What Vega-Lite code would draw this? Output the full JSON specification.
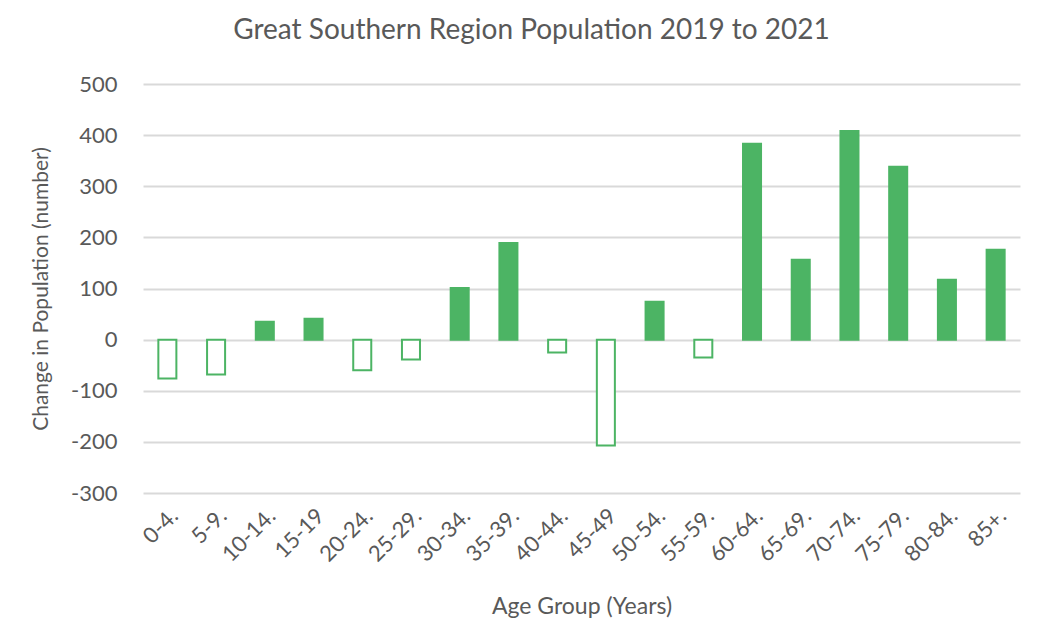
{
  "$schema": "https://vega.github.io/schema/vega-lite/v6.json",
  "autosize": "none",
  "width": 877,
  "height": 409,
  "padding": {"left": 143, "top": 84, "right": 24, "bottom": 126},
  "background": "white",
  "title": {
    "text": "Great Southern Region Population 2019 to 2021",
    "font": "Lato",
    "fontSize": 28,
    "fontWeight": "normal",
    "color": "#595959",
    "anchor": "middle",
    "dx": -50,
    "offset": 28
  },
  "data": {
    "values": [
      {"age": "0-4.", "change": -76},
      {"age": "5-9.", "change": -68},
      {"age": "10-14.", "change": 35},
      {"age": "15-19", "change": 41},
      {"age": "20-24.", "change": -60},
      {"age": "25-29.", "change": -39},
      {"age": "30-34.", "change": 101},
      {"age": "35-39.", "change": 189},
      {"age": "40-44.", "change": -25},
      {"age": "45-49", "change": -207},
      {"age": "50-54.", "change": 74},
      {"age": "55-59.", "change": -35},
      {"age": "60-64.", "change": 383},
      {"age": "65-69.", "change": 156},
      {"age": "70-74.", "change": 408},
      {"age": "75-79.", "change": 338},
      {"age": "80-84.", "change": 117},
      {"age": "85+.", "change": 176}
    ]
  },
  "mark": {"type": "bar", "stroke": "#4cb464", "strokeWidth": 2},
  "encoding": {
    "x": {
      "field": "age",
      "type": "nominal",
      "sort": null,
      "scale": {"paddingInner": 0.63, "paddingOuter": 0.315},
      "axis": {
        "title": "Age Group (Years)",
        "labelAngle": -45,
        "labelFont": "Lato",
        "labelFontSize": 22,
        "labelColor": "#595959",
        "titleFont": "Lato",
        "titleFontSize": 23,
        "titleFontWeight": "normal",
        "titleColor": "#595959",
        "titlePadding": 30,
        "domain": false,
        "ticks": false,
        "labelPadding": 12
      }
    },
    "y": {
      "field": "change",
      "type": "quantitative",
      "scale": {"domain": [-300, 500], "nice": false, "zero": true},
      "axis": {
        "title": "Change in Population (number)",
        "values": [-300, -200, -100, 0, 100, 200, 300, 400, 500],
        "labelExpr": "replace(datum.label, '−', '-')",
        "labelFont": "Lato",
        "labelFontSize": 22,
        "labelColor": "#595959",
        "labelPadding": 26,
        "titleFont": "Lato",
        "titleFontSize": 21,
        "titleFontWeight": "normal",
        "titleColor": "#595959",
        "titlePadding": 19,
        "domain": false,
        "ticks": false,
        "gridColor": "#d9d9d9",
        "gridWidth": 2
      }
    },
    "fill": {
      "condition": {"test": "datum.change < 0", "value": "white"},
      "value": "#4cb464"
    }
  },
  "config": {"view": {"stroke": null}}
}
